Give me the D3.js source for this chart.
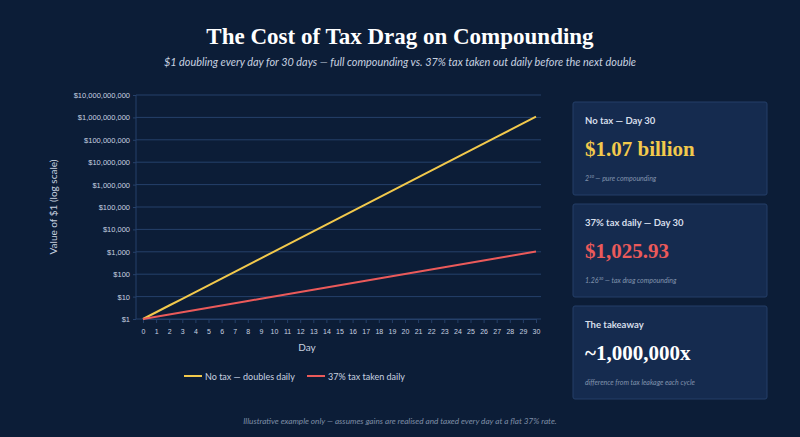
<!DOCTYPE html>
<head>
  <meta charset="utf-8" />
  <script src="https://d3js.org/d3.v7.min.js"></script>
  <style>
    body { margin: 0; background: #0c1d37; }
    svg { display: block; font-family: Lato, sans-serif; }
  </style>
</head>
<body>
<script>
  const days = d3.range(0, 31);
  const noTax = [1, 2, 4, 8, 16, 32, 64, 128, 256, 512, 1024, 2048, 4096, 8192, 16384, 32768,
    65536, 131072, 262144, 524288, 1048576, 2097152, 4194304, 8388608, 16777216, 33554432,
    67108864, 134217728, 268435456, 536870912, 1073741824];
  const taxed = [1, 1.26, 1.5876, 2.0004, 2.5205, 3.1758, 4.0015, 5.0419, 6.3528, 8.0045, 10.086,
    12.708, 16.012, 20.175, 25.421, 32.030, 40.358, 50.851, 64.072, 80.731, 101.72, 128.17,
    161.49, 203.48, 256.39, 323.05, 407.04, 512.87, 646.21, 814.23, 1025.93];
  const yTicks = [1, 10, 100, 1e3, 1e4, 1e5, 1e6, 1e7, 1e8, 1e9, 1e10];
  const series = [
    { name: "No tax — doubles daily", values: noTax, color: "#f2c94c" },
    { name: "37% tax taken daily", values: taxed, color: "#eb5a5a" }
  ];
  const cards = [
    { label: "No tax — Day 30", value: "$1.07 billion", note: "2³⁰ — pure compounding", color: "#f2c94c" },
    { label: "37% tax daily — Day 30", value: "$1,025.93", note: "1.26³⁰ — tax drag compounding", color: "#eb5a5a" },
    { label: "The takeaway", value: "~1,000,000x", note: "difference from tax leakage each cycle", color: "#ffffff" }
  ];

  const W = 800, H = 437;
  const serif = "Liberation Serif, serif";
  const svg = d3.select("body").append("svg").attr("width", W).attr("height", H);
  svg.append("rect").attr("width", W).attr("height", H).attr("fill", "#0c1d37");

  svg.append("text").attr("x", 400).attr("y", 44).attr("text-anchor", "middle")
    .attr("font-family", serif).attr("font-weight", "bold").attr("font-size", 23)
    .attr("fill", "#fff").text("The Cost of Tax Drag on Compounding");
  svg.append("text").attr("x", 400).attr("y", 66).attr("text-anchor", "middle")
    .attr("font-style", "italic").attr("font-size", 10.9).attr("fill", "#c8d2e0")
    .text("$1 doubling every day for 30 days — full compounding vs. 37% tax taken out daily before the next double");

  const x = d3.scaleLinear().domain([0, 30]).range([143, 536]);
  const y = d3.scaleLog().domain([1, 1e10]).range([319, 95]);

  const g = svg.append("g");
  g.selectAll("line.grid").data(yTicks).join("line")
    .attr("x1", 136).attr("x2", 541).attr("y1", y).attr("y2", y)
    .attr("stroke", "#25406a").attr("stroke-width", 1);
  g.append("line").attr("x1", 136).attr("x2", 136).attr("y1", 95).attr("y2", 319).attr("stroke", "#25406a");

  const yAxis = svg.append("g").attr("transform", "translate(136,0)")
    .call(d3.axisLeft(y).tickValues(yTicks).tickSize(3).tickFormat(d => "$" + d3.format(",")(d)));
  yAxis.select(".domain").remove();
  yAxis.selectAll("line").attr("stroke", "#25406a");
  yAxis.selectAll("text").attr("fill", "#c8d2e0").attr("font-size", 7.5);

  const xAxis = svg.append("g").attr("transform", "translate(0,319)")
    .call(d3.axisBottom(x).tickValues(days).tickSize(4).tickPadding(6));
  xAxis.select(".domain").attr("stroke", "#25406a");
  xAxis.selectAll("line").attr("stroke", "#25406a");
  xAxis.selectAll("text").attr("fill", "#c8d2e0").attr("font-size", 7);

  svg.append("text").attr("x", 307).attr("y", 351).attr("text-anchor", "middle")
    .attr("font-size", 10).attr("fill", "#c8d2e0").text("Day");
  svg.append("text").attr("transform", "translate(57,207) rotate(-90)").attr("text-anchor", "middle")
    .attr("font-size", 10).attr("fill", "#c8d2e0").text("Value of $1 (log scale)");

  const line = d3.line().x((d, i) => x(days[i])).y(d => y(d));
  svg.selectAll("path.s").data(series).join("path")
    .attr("d", d => line(d.values)).attr("fill", "none")
    .attr("stroke", d => d.color).attr("stroke-width", 2);

  const lg = svg.append("g");
  const lx = [184, 307];
  series.forEach((s, i) => {
    lg.append("line").attr("x1", lx[i]).attr("x2", lx[i] + 18).attr("y1", 376).attr("y2", 376)
      .attr("stroke", s.color).attr("stroke-width", 2);
    lg.append("text").attr("x", lx[i] + 21).attr("y", 379.5).attr("font-size", 9)
      .attr("fill", "#c8d2e0").text(s.name);
  });

  cards.forEach((c, i) => {
    const cy = 102 + i * 102;
    const cg = svg.append("g").attr("transform", `translate(573,${cy})`);
    cg.append("rect").attr("width", 194).attr("height", 93).attr("rx", 2)
      .attr("fill", "#152b4f").attr("stroke", "#243f69");
    cg.append("text").attr("x", 12).attr("y", 22).attr("font-size", 9.5).attr("font-weight", "bold")
      .attr("fill", "#d6deea").text(c.label);
    cg.append("text").attr("x", 12).attr("y", 54).attr("font-family", serif)
      .attr("font-weight", "bold").attr("font-size", 21).attr("fill", c.color).text(c.value);
    cg.append("text").attr("x", 12).attr("y", 79).attr("font-size", 7).attr("font-style", "italic")
      .attr("fill", "#8193ad").text(c.note);
  });

  svg.append("text").attr("x", 400).attr("y", 424).attr("text-anchor", "middle")
    .attr("font-style", "italic").attr("font-size", 8.2).attr("fill", "#7f8ea6")
    .text("Illustrative example only — assumes gains are realised and taxed every day at a flat 37% rate.");
</script>
</body>
